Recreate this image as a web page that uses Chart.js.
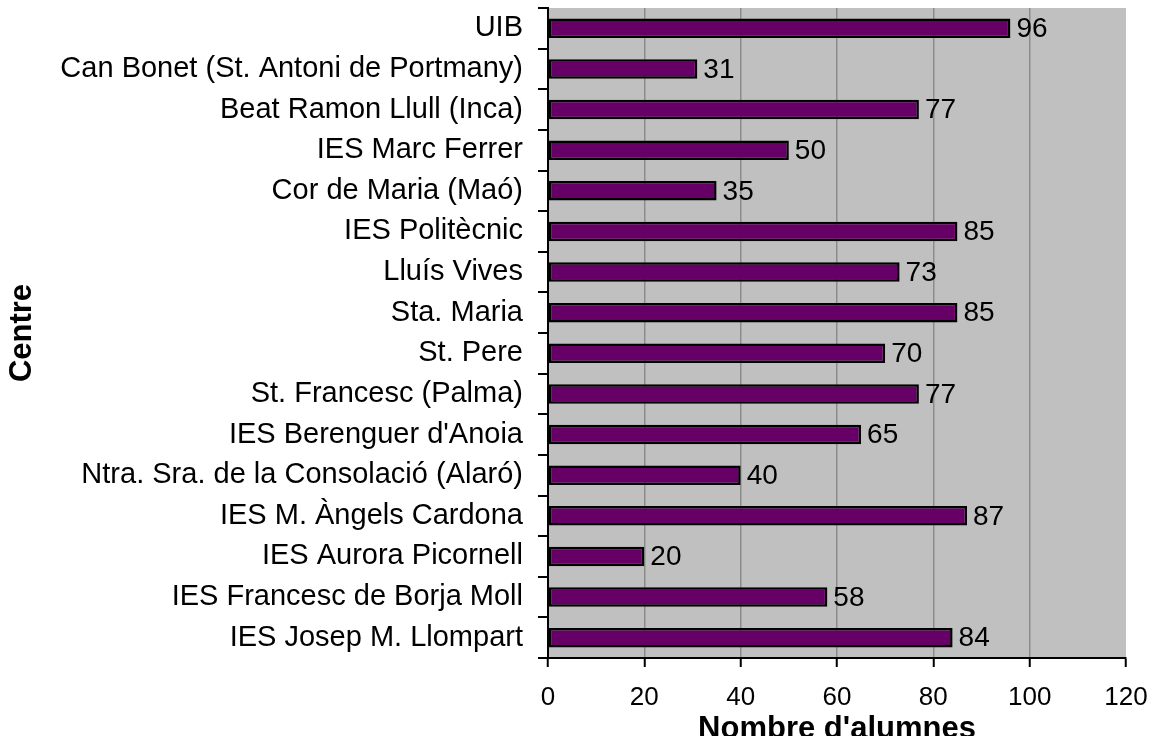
<!DOCTYPE html>
<html>
<head>
<meta charset="utf-8">
<script src="https://cdn.jsdelivr.net/npm/chart.js@4/dist/chart.umd.min.js"></script>
<style>
  html, body { margin: 0; padding: 0; background: #fff; overflow: hidden; }
  #wrap { width: 1153px; height: 736px; }
</style>
</head>
<body>
<div id="wrap"><canvas id="chart" width="1153" height="736"></canvas></div>
<script>
const centres = [
    'UIB',
    'Can Bonet (St. Antoni de Portmany)',
    'Beat Ramon Llull (Inca)',
    'IES Marc Ferrer',
    'Cor de Maria (Maó)',
    'IES Politècnic',
    'Lluís Vives',
    'Sta. Maria',
    'St. Pere',
    'St. Francesc (Palma)',
    'IES Berenguer d\'Anoia',
    'Ntra. Sra. de la Consolació (Alaró)',
    'IES M. Àngels Cardona',
    'IES Aurora Picornell',
    'IES Francesc de Borja Moll',
    'IES Josep M. Llompart'
];
const alumnes = [96, 31, 77, 50, 35, 85, 73, 85, 70, 77, 65, 40, 87, 20, 58, 84];
const xTicks = [0, 20, 40, 60, 80, 100, 120];

const FONT = 'Arial, "Liberation Sans", sans-serif';

// grey plot area behind the bars
const plotBackground = {
    id: 'plotBackground',
    beforeDraw(chart) {
        const { ctx, chartArea } = chart;
        ctx.save();
        ctx.fillStyle = '#c0c0c0';
        ctx.fillRect(chartArea.left, chartArea.top, chartArea.right - chartArea.left, chartArea.bottom - chartArea.top);
        ctx.restore();
    }
};

// value next to the end of each bar
const valueLabels = {
    id: 'valueLabels',
    afterDatasetsDraw(chart) {
        const { ctx } = chart;
        const meta = chart.getDatasetMeta(0);
        ctx.save();
        ctx.font = '28px ' + FONT;
        ctx.fillStyle = '#000';
        ctx.textAlign = 'left';
        ctx.textBaseline = 'middle';
        meta.data.forEach((bar, i) => {
            ctx.fillText(String(alumnes[i]), bar.x + 6, bar.y + 1);
        });
        ctx.restore();
    }
};

new Chart(document.getElementById('chart'), {
    type: 'bar',
    data: {
        labels: centres,
        datasets: [{
            label: "Nombre d'alumnes",
            data: alumnes,
            backgroundColor: '#660066',
            borderColor: '#000000',
            borderWidth: 2.5,
            borderSkipped: false,
            barPercentage: 0.48,
            categoryPercentage: 1.0
        }]
    },
    options: {
        indexAxis: 'y',
        responsive: false,
        animation: false,
        devicePixelRatio: 1,
        layout: { padding: { top: 8, right: 27, left: 0, bottom: 0 } },
        plugins: {
            legend: { display: false },
            tooltip: { enabled: false }
        },
        scales: {
            x: {
                min: 0,
                max: 120,
                afterBuildTicks(scale) {
                    scale.ticks = xTicks.map(v => ({ value: v }));
                },
                afterFit(scale) {
                    scale.height = 78;
                    scale.paddingLeft = 0;
                    scale.paddingRight = 0;
                },
                border: { display: true, color: '#000', width: 2 },
                grid: {
                    color: ctx => (ctx.tick && (ctx.tick.value === 0 || ctx.tick.value === 120)) ? 'rgba(0,0,0,0)' : '#8c8c8c',
                    lineWidth: 1.5,
                    tickColor: '#000',
                    tickWidth: 2,
                    tickLength: 9
                },
                ticks: {
                    color: '#000',
                    padding: 15,
                    maxRotation: 0,
                    font: { family: FONT, size: 26 }
                },
                title: {
                    display: true,
                    text: "Nombre d'alumnes",
                    color: '#000',
                    font: { family: FONT, size: 31, weight: 'bold' },
                    padding: { top: 0, bottom: -12.5 }
                }
            },
            y: {
                afterFit(scale) {
                    scale.width = 548;
                    scale.paddingTop = 0;
                    scale.paddingBottom = 0;
                },
                border: { display: true, color: '#000', width: 2 },
                grid: {
                    drawOnChartArea: false,
                    offset: true,
                    color: '#000',
                    lineWidth: 2,
                    tickLength: 10
                },
                ticks: {
                    color: '#000',
                    padding: 15,
                    autoSkip: false,
                    font: { family: FONT, size: 29 }
                },
                title: {
                    display: true,
                    text: 'Centre',
                    color: '#000',
                    font: { family: FONT, size: 31, weight: 'bold' },
                    padding: { top: 4, bottom: 0 }
                }
            }
        }
    },
    plugins: [plotBackground, valueLabels]
});
</script>
</body>
</html>
